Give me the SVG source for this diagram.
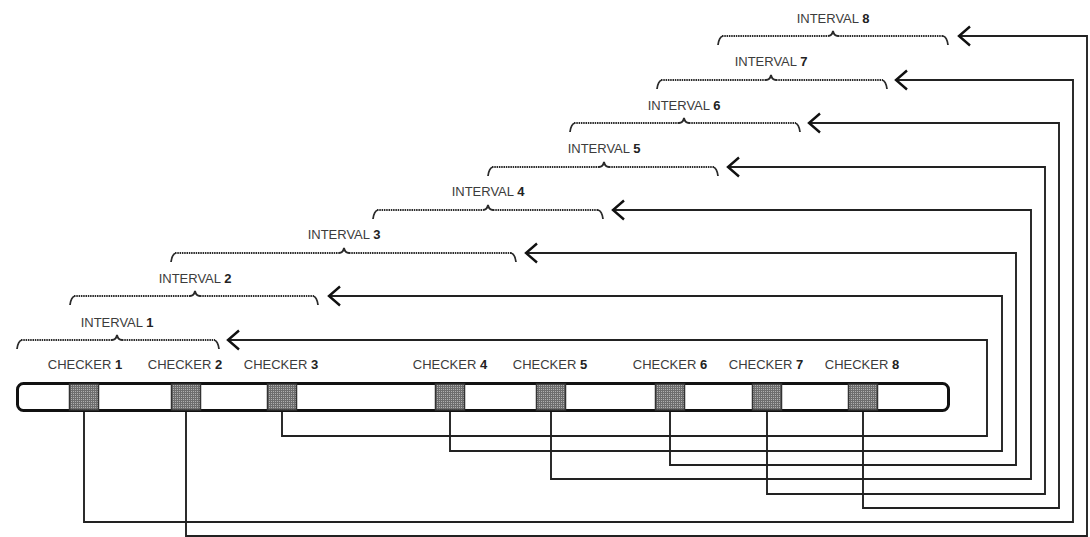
<svg xmlns="http://www.w3.org/2000/svg" width="1090" height="537" viewBox="0 0 1090 537">
<style>
text{font-family:"Liberation Sans",Arial,sans-serif;font-size:13px;fill:#3c3c3c;text-anchor:middle}
.n{font-weight:bold;fill:#222}
.br{fill:none;stroke:#2a2a2a;stroke-width:2;stroke-dasharray:1.5 0.8}
.cap{fill:none;stroke:#2a2a2a;stroke-width:1.8}
.bar{fill:#fff;stroke:#111;stroke-width:3}
.sq{fill:url(#hatch);stroke:#333;stroke-width:1.5}
.cn{fill:none;stroke:#222;stroke-width:1.9;marker-end:url(#chev)}
</style>
<defs>
<pattern id="hatch" width="2" height="2" patternUnits="userSpaceOnUse">
<rect width="2" height="2" fill="#b0b0b0"/>
<path d="M0,0.5H2M0.5,0V2" stroke="#6e6e6e" stroke-width="1"/>
</pattern>
<marker id="chev" markerUnits="userSpaceOnUse" viewBox="-15 -15 30 30" markerWidth="30" markerHeight="30" refX="0" refY="0" orient="auto" overflow="visible">
<path d="M-11,-9.5L0,0L-11,9.5" fill="none" stroke="#111" stroke-width="2.4"/>
</marker>
</defs>

<g id="connectors">
<path class="cn" d="M282,411V436H987V340H228"/>
<path class="cn" d="M450,411V451H1002V296H329"/>
<path class="cn" d="M670,411V465H1016V253H526"/>
<path class="cn" d="M551,411V479H1031V210H613"/>
<path class="cn" d="M767,411V494H1045V167H728"/>
<path class="cn" d="M863,411V508H1059V123H809"/>
<path class="cn" d="M84,411V522H1073V80H896"/>
<path class="cn" d="M186,411V536H1087V36H959"/>
</g>

<g id="bar">
<rect class="bar" x="17.5" y="383.5" width="931" height="27" rx="6"/>
</g>

<g id="checker1"><rect class="sq" x="69.5" y="384" width="29" height="26"/><text x="85" y="369">CHECKER <tspan class="n">1</tspan></text></g>
<g id="checker2"><rect class="sq" x="171.5" y="384" width="29" height="26"/><text x="185" y="369">CHECKER <tspan class="n">2</tspan></text></g>
<g id="checker3"><rect class="sq" x="267.5" y="384" width="29" height="26"/><text x="281" y="369">CHECKER <tspan class="n">3</tspan></text></g>
<g id="checker4"><rect class="sq" x="435.5" y="384" width="29" height="26"/><text x="450" y="369">CHECKER <tspan class="n">4</tspan></text></g>
<g id="checker5"><rect class="sq" x="536.5" y="384" width="29" height="26"/><text x="550" y="369">CHECKER <tspan class="n">5</tspan></text></g>
<g id="checker6"><rect class="sq" x="655.5" y="384" width="29" height="26"/><text x="670" y="369">CHECKER <tspan class="n">6</tspan></text></g>
<g id="checker7"><rect class="sq" x="752.5" y="384" width="29" height="26"/><text x="766" y="369">CHECKER <tspan class="n">7</tspan></text></g>
<g id="checker8"><rect class="sq" x="848.5" y="384" width="29" height="26"/><text x="862" y="369">CHECKER <tspan class="n">8</tspan></text></g>

<g id="interval1"><path class="br" d="M21,340H112M122,340H215"/><path class="cap" d="M17,349Q18,341 22,340M112,340Q116,340 117,335Q118,340 122,340M214,340Q218,341 219,349"/><text x="117" y="327">INTERVAL <tspan class="n">1</tspan></text></g>
<g id="interval2"><path class="br" d="M74,296H190M200,296H314"/><path class="cap" d="M70,305Q71,297 75,296M190,296Q194,296 195,291Q196,296 200,296M313,296Q317,297 318,305"/><text x="195" y="283">INTERVAL <tspan class="n">2</tspan></text></g>
<g id="interval3"><path class="br" d="M175,253H339M349,253H512"/><path class="cap" d="M171,262Q172,254 176,253M339,253Q343,253 344,248Q345,253 349,253M511,253Q515,254 516,262"/><text x="344" y="239">INTERVAL <tspan class="n">3</tspan></text></g>
<g id="interval4"><path class="br" d="M377,210H483M493,210H599"/><path class="cap" d="M373,219Q374,211 378,210M483,210Q487,210 488,205Q489,210 493,210M598,210Q602,211 603,219"/><text x="488" y="196">INTERVAL <tspan class="n">4</tspan></text></g>
<g id="interval5"><path class="br" d="M492,167H599M609,167H714"/><path class="cap" d="M488,176Q489,168 493,167M599,167Q603,167 604,162Q605,167 609,167M713,167Q717,168 718,176"/><text x="604" y="153">INTERVAL <tspan class="n">5</tspan></text></g>
<g id="interval6"><path class="br" d="M574,123H679M689,123H796"/><path class="cap" d="M570,132Q571,124 575,123M679,123Q683,123 684,118Q685,123 689,123M795,123Q799,124 800,132"/><text x="684" y="110">INTERVAL <tspan class="n">6</tspan></text></g>
<g id="interval7"><path class="br" d="M661,80H766M776,80H883"/><path class="cap" d="M657,89Q658,81 662,80M766,80Q770,80 771,75Q772,80 776,80M882,80Q886,81 887,89"/><text x="771" y="66">INTERVAL <tspan class="n">7</tspan></text></g>
<g id="interval8"><path class="br" d="M722,36H828M838,36H944"/><path class="cap" d="M718,45Q719,37 723,36M828,36Q832,36 833,31Q834,36 838,36M943,36Q947,37 948,45"/><text x="833" y="23">INTERVAL <tspan class="n">8</tspan></text></g>
</svg>
